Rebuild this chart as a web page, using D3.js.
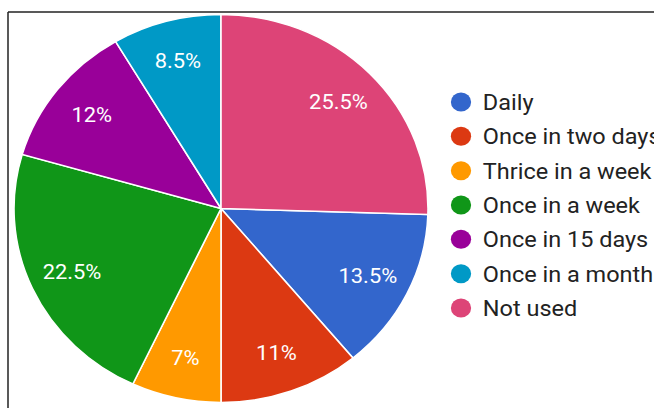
<!DOCTYPE html>
<html>
<head>
<meta charset="utf-8">
<script src="https://cdn.jsdelivr.net/npm/d3@7"></script>
<style>
  body { margin: 0; background: #ffffff; }
  svg { display: block; }
  text { font-family: Roboto, "Noto Sans", Arial, sans-serif; }
</style>
</head>
<body>
<svg id="chart" width="654" height="408"></svg>
<script>
// Survey answers: how often the service is used (percent of respondents)
const categories = ["Daily", "Once in two days", "Thrice in a week", "Once in a week",
                    "Once in 15 days", "Once in a month", "Not used"];
const shares = [13.5, 11, 7, 22.5, 12, 8.5, 25.5];
const palette = ["#3366cc", "#dc3912", "#ff9900", "#109618", "#990099", "#0099c6", "#dd4477"];

const svg = d3.select("#chart");
const W = 654, H = 408;

// frame lines along the top and left edges
svg.append("line").attr("x1", 8).attr("y1", 12).attr("x2", W).attr("y2", 12)
  .attr("stroke", "#222").attr("stroke-width", 1.5);
svg.append("line").attr("x1", 8).attr("y1", 12).attr("x2", 8).attr("y2", H)
  .attr("stroke", "#222").attr("stroke-width", 1.5);

const stretch = 1.067;        // slightly wide aspect of the whole chart
const cx = 221, cy = 208.5, R = 194;

const color = d3.scaleOrdinal().domain(categories).range(palette);
const total = d3.sum(shares);
// the last slice ends at 12 o'clock, so start after it
const start = 2 * Math.PI * shares[shares.length - 1] / total;
const pie = d3.pie().sort(null).value(d => d.v)
  .startAngle(start).endAngle(start + 2 * Math.PI);
const data = categories.map((c, i) => ({ c, v: shares[i] }));
const arcs = pie(data);

const arc = d3.arc().innerRadius(0).outerRadius(R);
const labelArc = d3.arc().innerRadius(R * 0.79).outerRadius(R * 0.79);

const g = svg.append("g").attr("transform", `translate(${cx},${cy}) scale(${stretch},1)`);
g.selectAll("path").data(arcs).join("path")
  .attr("d", arc)
  .attr("fill", d => color(d.data.c))
  .attr("stroke", "#ffffff")
  .attr("stroke-width", 1.5);

g.selectAll("text").data(arcs).join("text")
  .attr("transform", d => `translate(${labelArc.centroid(d)})`)
  .attr("text-anchor", "middle")
  .attr("dy", "0.36em")
  .attr("fill", "#ffffff")
  .attr("font-size", 20.5)
  .text(d => d3.format(".3~r")(d.data.v) + "%");

// legend
const ly = d3.scalePoint().domain(categories).range([102, 308]);
const legend = svg.append("g");
const item = legend.selectAll("g").data(categories).join("g")
  .attr("transform", d => `translate(461,${ly(d)}) scale(${stretch},1)`);
item.append("circle").attr("r", 9.5).attr("fill", d => color(d));
item.append("text")
  .attr("x", 20.5)
  .attr("dy", "0.36em")
  .attr("fill", "#222222")
  .attr("font-size", 22)
  .text(d => d);
</script>
</body>
</html>
